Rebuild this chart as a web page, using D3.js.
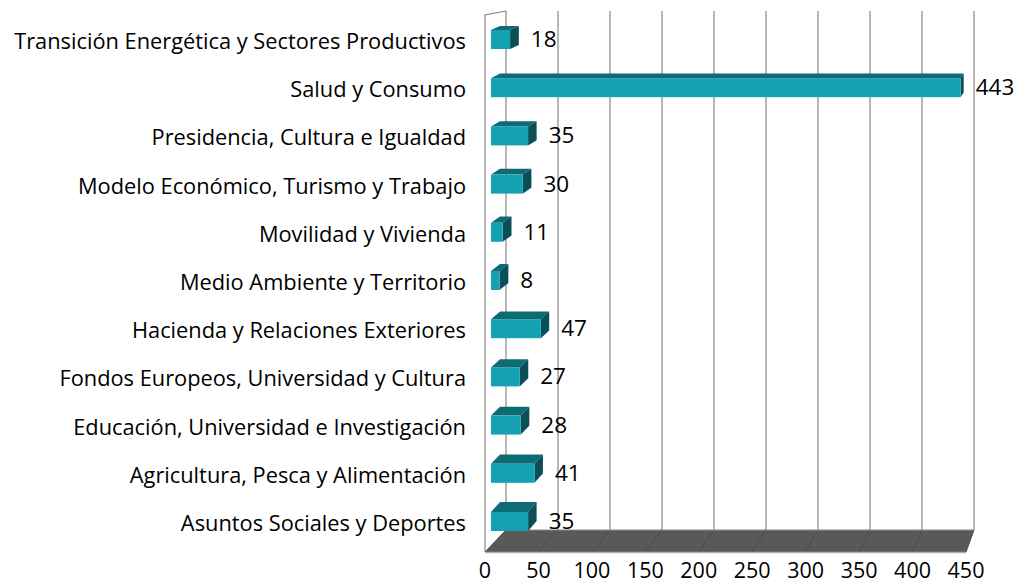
<!DOCTYPE html>
<html>
<head>
<meta charset="utf-8">
<script src="https://cdn.jsdelivr.net/npm/d3@7"></script>
<style>
    body { margin:0; background:#ffffff; }
    text { font-family: "Open Sans", "Noto Sans", sans-serif; }
</style>
</head>
<body>
<svg id="chart" width="1027" height="584"></svg>
<script>
// categories top to bottom
var categories = [
    "Transición Energética y Sectores Productivos",
    "Salud y Consumo",
    "Presidencia, Cultura e Igualdad",
    "Modelo Económico, Turismo y Trabajo",
    "Movilidad y Vivienda",
    "Medio Ambiente y Territorio",
    "Hacienda y Relaciones Exteriores",
    "Fondos Europeos, Universidad y Cultura",
    "Educación, Universidad e Investigación",
    "Agricultura, Pesca y Alimentación",
    "Asuntos Sociales y Deportes"
];
var values = [18, 443, 35, 30, 11, 8, 47, 27, 28, 41, 35];
var ticks = [0, 50, 100, 150, 200, 250, 300, 350, 400, 450];

var svg = d3.select("#chart");

// front edge of floor, back wall, and bar faces (the 3d box)
var xFront = d3.scaleLinear().domain([0, 450]).range([485, 966]);
var xBack = d3.scaleLinear().domain([0, 450]).range([506, 974]);
var xBarFront = d3.scaleLinear().domain([0, 450]).range([491, 968]);
var xBarBack = d3.scaleLinear().domain([0, 450]).range([500, 971]);
var y = d3.scaleBand().domain(categories).range([15.4, 545.6]).paddingInner(0.606).paddingOuter(0.303);
var depthY = d3.scaleLinear().domain([30, 512]).range([4, 10]);

var wallTop = 11, floorBack = 530, floorFront = 552;

// floor
svg.append("polygon")
    .attr("points", [[xFront(0), floorFront], [xFront(450), floorFront], [xBack(450), floorBack], [xBack(0), floorBack]].join(" "))
    .style("fill", "#595959");
svg.selectAll("line.floor-grid").data(ticks).enter().append("line")
    .attr("class", "floor-grid")
    .attr("x1", function(d){ return xBack(d); })
    .attr("y1", floorBack)
    .attr("x2", function(d){ return xFront(d); })
    .attr("y2", floorFront)
    .style("stroke", "#4b4b4b")
    .style("stroke-width", 1);
svg.append("line")
    .attr("x1", xFront(0)).attr("y1", floorFront + 0.5)
    .attr("x2", xFront(450)).attr("y2", floorFront + 0.5)
    .style("stroke", "#b0b0b0").style("stroke-width", 1.5);
svg.append("line")
    .attr("x1", xBack(0)).attr("y1", floorBack)
    .attr("x2", xBack(450)).attr("y2", floorBack)
    .style("stroke", "#8a8a8a").style("stroke-width", 1);

// back wall gridlines
svg.selectAll("line.grid").data(ticks).enter().append("line")
    .attr("class", "grid")
    .attr("x1", function(d){ return xBack(d); })
    .attr("y1", wallTop)
    .attr("x2", function(d){ return xBack(d); })
    .attr("y2", floorBack)
    .style("stroke", "#868686")
    .style("stroke-width", 1.2);

// left wall
svg.append("polyline")
    .attr("points", [[xFront(0), floorFront], [xFront(0), wallTop + 4], [xBack(0), wallTop]].join(" "))
    .style("fill", "none")
    .style("stroke", "#868686")
    .style("stroke-width", 1.2);

// bars
var bars = svg.selectAll("g.bar").data(values).enter().append("g").attr("class", "bar");

bars.append("polygon") // top face
    .attr("points", function(d, i){
        var t = y(categories[i]), dy = depthY(t);
        return [[xBarFront(0), t], [xBarFront(d), t], [xBarBack(d), t - dy], [xBarBack(0), t - dy]].join(" ");
    })
    .style("fill", "#0e6b75");
bars.append("polygon") // end face
    .attr("points", function(d, i){
        var t = y(categories[i]), dy = depthY(t), h = y.bandwidth();
        return [[xBarFront(d), t], [xBarBack(d), t - dy], [xBarBack(d), t - dy + h], [xBarFront(d), t + h]].join(" ");
    })
    .style("fill", "#0a4f57");
bars.append("rect") // front face
    .attr("x", xBarFront(0))
    .attr("y", function(d, i){ return y(categories[i]); })
    .attr("width", function(d){ return xBarFront(d) - xBarFront(0); })
    .attr("height", y.bandwidth())
    .style("fill", "#14a2b3");

// value labels
svg.selectAll("text.value").data(values).enter().append("text")
    .attr("class", "value")
    .text(function(d){ return d; })
    .attr("x", function(d){ return xBarBack(d) + 12; })
    .attr("y", function(d, i){ return y(categories[i]) + 17; })
    .style("fill", "#000000")
    .style("font-size", "22.5px");

// category labels
svg.selectAll("text.category").data(categories).enter().append("text")
    .attr("class", "category")
    .text(function(d){ return d; })
    .attr("x", 466)
    .attr("y", function(d){ return y(d) + 19; })
    .attr("text-anchor", "end")
    .style("fill", "#000000")
    .style("font-size", "21.8px");

// tick labels
svg.selectAll("text.tick").data(ticks).enter().append("text")
    .attr("class", "tick")
    .text(function(d){ return d; })
    .attr("x", function(d){ return xFront(d); })
    .attr("y", 578)
    .attr("text-anchor", "middle")
    .style("fill", "#000000")
    .style("font-size", "21.5px");
</script>
</body>
</html>
